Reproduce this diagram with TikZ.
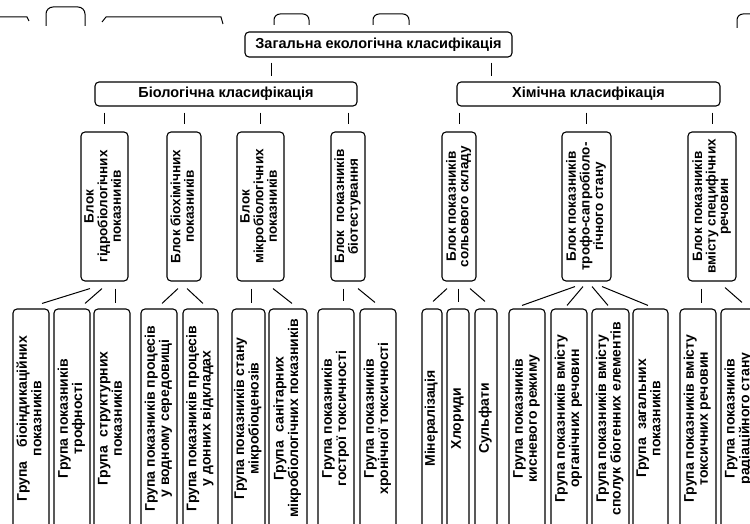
\documentclass[tikz,border=0pt]{standalone}
\usepackage{fontspec}
\usepackage{graphicx}
\setmainfont{Liberation Sans}
\usetikzlibrary{positioning}

% text turned to read from bottom to top
\newcommand{\vlabel}[1]{\rotatebox{90}{\begin{tabular}{@{}c@{}}#1\end{tabular}}}

\begin{document}
\begin{tikzpicture}[x=1pt,y=-1pt,
	box/.style={draw,line width=1.1pt,rounded corners=4pt,inner sep=0pt,font=\bfseries\fontsize{13.5}{12.5}\selectfont},
	head/.style={box,font=\bfseries\fontsize{14.5}{15}\selectfont},
	blockbox/.style={box,minimum height=149pt},
	groupbox/.style={box,minimum height=219pt,font=\bfseries\fontsize{14}{14}\selectfont},
	link/.style={line width=1pt}]
	\useasboundingbox (0,0) rectangle (750,524);
	\clip (0,0) rectangle (750,524);
	\fill[white] (0,0) rectangle (750,524);
	% scraps of the upper figure
	\draw[line width=1pt] (0,17) -- (27,17) -- (29,21);
	\draw[line width=1pt,rounded corners=7pt] (46,26) -- (46,7) -- (85,7) -- (85,26);
	\draw[line width=1pt] (102,22) -- (106,17) -- (221,17) -- (223,24);
	\draw[line width=1pt,rounded corners=6pt] (274,25) -- (274,14) -- (309,14) -- (309,25);
	\draw[line width=1pt,rounded corners=6pt] (373,25) -- (373,14) -- (409,14) -- (409,25);
	\draw[line width=1pt,rounded corners=6pt] (737,28) -- (737,14) -- (760,14);
%levels 0 and 1
	\node[head,minimum width=267pt,minimum height=25pt] (top) at (378.5,44.5) {Загальна екологічна класифікація};
	\node[head,minimum width=262pt,minimum height=24pt] (bio) at (226,94) {Біологічна класифікація};
	\node[head,minimum width=263pt,minimum height=24pt] (chem) at (588.5,94) {Хімічна класифікація};
	\draw[link] ([yshift=-5pt]top.south -| 271,0) -- ([yshift=5pt]bio.north -| 271,0);
	\draw[link] ([yshift=-5pt]top.south -| 491,0) -- ([yshift=5pt]chem.north -| 491,0);
%level 2
	\node[blockbox,minimum width=47pt] (h1) at (104.5,206.5) {\vlabel{Блок\\гідробіологічних\\показників}};
	\node[blockbox,minimum width=34pt] (h2) at (184,206.5) {\vlabel{Блок біохімічних\\показників}};
	\node[blockbox,minimum width=47pt] (h3) at (260.5,206.5) {\vlabel{Блок\\мікробіологічних\\показників}};
	\node[blockbox,minimum width=34pt] (h4) at (348,206.5) {\vlabel{Блок\hspace{0.6em}показників\\біотестування}};
	\node[blockbox,minimum width=34pt] (h5) at (459,206.5) {\vlabel{Блок показників\\сольового складу}};
	\node[blockbox,minimum width=49pt] (h6) at (586.5,206.5) {\vlabel{Блок показників\\трофо-сапробіоло-\\гічного стану}};
	\node[blockbox,minimum width=48pt] (h7) at (712,206.5) {\vlabel{Блок показників\\вмісту специфічних\\речовин}};
	\foreach \h in {h1,h2,h3,h4}
		\draw[link] ([yshift=-6pt]bio.south -| \h.north) -- ([yshift=7pt]\h.north);
	\foreach \h in {h5,h6,h7}
		\draw[link] ([yshift=-6pt]chem.south -| \h.north) -- ([yshift=7pt]\h.north);
%level 3
	\node[groupbox,minimum width=36pt] (b1) at (31,418.5) {\vlabel{Група\hspace{1em}біоіндикаційних\\показників}};
	\node[groupbox,minimum width=36pt] (b2) at (72,418.5) {\vlabel{Група показників\\трофності}};
	\node[groupbox,minimum width=36pt] (b3) at (112,418.5) {\vlabel{Група\hspace{0.6em}структурних\\показників}};
	\node[groupbox,minimum width=36pt] (b4) at (159,418.5) {\vlabel{Група показників процесів\\у водному середовищі}};
	\node[groupbox,minimum width=35pt] (b5) at (200.5,418.5) {\vlabel{Група показників процесів\\у донних відкладах}};
	\node[groupbox,minimum width=33pt] (b6) at (248.5,418.5) {\vlabel{Група показників стану\\мікробіоценозів}};
	\node[groupbox,minimum width=38pt] (b7) at (288,418.5) {\vlabel{Група\hspace{0.6em}санітарних\\мікробіологічних показників}};
	\node[groupbox,minimum width=36pt] (b8) at (336,418.5) {\vlabel{Група показників\\гострої токсичності}};
	\node[groupbox,minimum width=36pt] (b9) at (378,418.5) {\vlabel{Група показників\\хронічної токсичності}};
	\node[groupbox,minimum width=20pt] (b10) at (432,418.5) {\vlabel{Мінералізація}};
	\node[groupbox,minimum width=22pt] (b11) at (458,418.5) {\vlabel{Хлориди}};
	\node[groupbox,minimum width=22pt] (b12) at (486,418.5) {\vlabel{Сульфати}};
	\node[groupbox,minimum width=36pt] (b13) at (527,418.5) {\vlabel{Група показників\\кисневого режиму}};
	\node[groupbox,minimum width=36pt] (b14) at (569,418.5) {\vlabel{Група показників вмісту\\органічних речовин}};
	\node[groupbox,minimum width=37pt] (b15) at (610.5,418.5) {\vlabel{Група показників вмісту\\сполук біогенних елементів}};
	\node[groupbox,minimum width=35pt] (b16) at (650.5,418.5) {\vlabel{Група\hspace{0.6em}загальних\\показників}};
	\node[groupbox,minimum width=36pt] (b17) at (698,418.5) {\vlabel{Група показників вмісту\\токсичних речовин}};
	\node[groupbox,minimum width=36pt] (b18) at (739,418.5) {\vlabel{Група показників\\радіаційного стану}};
%connectors between levels 2 and 3
	\draw[link] ([shift={(-14.5,7)}]h1.south) -- ([shift={(11,-5)}]b1.north);
	\draw[link] ([shift={(-2.5,7)}]h1.south) -- ([shift={(13,-5)}]b2.north);
	\draw[link] ([shift={(10.5,7)}]h1.south) -- ([shift={(3,-5)}]b3.north);
	\draw[link] ([shift={(-6,7)}]h2.south) -- ([shift={(3,-5)}]b4.north);
	\draw[link] ([shift={(3,7)}]h2.south) -- ([shift={(2.5,-5)}]b5.north);
	\draw[link] ([shift={(-9.5,7)}]h3.south) -- ([shift={(2.5,-5)}]b6.north);
	\draw[link] ([shift={(12.5,7)}]h3.south) -- ([shift={(4,-5)}]b7.north);
	\draw[link] ([shift={(-5,7)}]h4.south) -- ([shift={(7,-7)}]b8.north);
	\draw[link] ([shift={(10,7)}]h4.south) -- ([shift={(-3,-6)}]b9.north);
	\draw[link] ([shift={(-12,7)}]h5.south) -- ([shift={(1,-7)}]b10.north);
	\draw[link] ([shift={(-1,7)}]h5.south) -- ([shift={(0,-6)}]b11.north);
	\draw[link] ([shift={(11,7)}]h5.south) -- ([shift={(-1,-7)}]b12.north);
	\draw[link] ([shift={(-11.5,5)}]h6.south) -- ([shift={(-5,-3)}]b13.north);
	\draw[link] ([shift={(-3.5,5)}]h6.south) -- ([shift={(-2,-3)}]b14.north);
	\draw[link] ([shift={(5.5,5)}]h6.south) -- ([shift={(-2.5,-3)}]b15.north);
	\draw[link] ([shift={(15.5,5)}]h6.south) -- ([shift={(-2.5,-3)}]b16.north);
	\draw[link] ([shift={(-11,7)}]h7.south) -- ([shift={(3,-5)}]b17.north);
	\draw[link] ([shift={(13,6)}]h7.south) -- ([shift={(3,-6)}]b18.north);
\end{tikzpicture}
\end{document}
